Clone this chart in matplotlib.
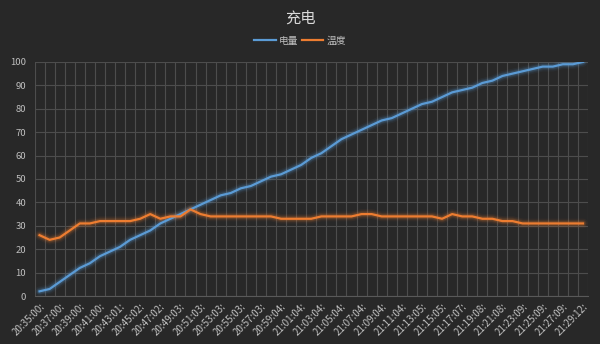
import matplotlib
matplotlib.use('Agg')
import matplotlib.pyplot as plt
import numpy as np

plt.rcParams['font.family'] = ['Noto Sans CJK SC', 'DejaVu Sans']

# 电量 (battery %) and 温度 (temperature) sampled about once a minute
battery = [2, 3, 6, 9, 12, 14, 17, 19, 21, 24, 26, 28, 31, 33, 35, 37, 39,
           41, 43, 44, 46, 47, 49, 51, 52, 54, 56, 59, 61,
           64, 67, 69, 71, 73, 75, 76, 78, 80, 82, 83, 85, 87, 88, 89, 91,
           92, 94, 95, 96, 97, 98, 98, 99, 99, 100]
temp = [26, 24, 25, 28, 31, 31, 32, 32, 32, 32,
        33, 35, 33, 34, 34, 37, 35, 34, 34, 34,
        34, 34, 34, 34, 33, 33, 33, 33, 34, 34,
        34, 34, 35, 35, 34, 34, 34, 34, 34, 34,
        33, 35, 34, 34, 33, 33, 32, 32, 31, 31,
        31, 31, 31, 31, 31]
# every second sample gets a label
tick_labels = ['20:35:00:', '20:37:00:', '20:39:00:', '20:41:00:', '20:43:01:',
               '20:45:02:', '20:47:02:', '20:49:03:', '20:51:03:', '20:53:03:',
               '20:55:03:', '20:57:03:', '20:59:04:', '21:01:04:', '21:03:04:',
               '21:05:04:', '21:07:04:', '21:09:04:', '21:11:04:', '21:13:05:',
               '21:15:05:', '21:17:07:', '21:19:08:', '21:21:08:', '21:23:09:',
               '21:25:09:', '21:27:09:', '21:29:12:']

bg = '#282828'
blue = '#5b9bd5'
orange = '#ed7d31'
txt = '#bfbfbf'

fig = plt.figure(figsize=(6, 3.44), dpi=100, facecolor=bg)
ax = fig.add_axes([0.0575, 0.1395, 0.9225, 0.6805], facecolor=bg)

x = np.arange(len(battery))

# soft glow under each line
for series, c in [(battery, blue), (temp, orange)]:
    for lw, a in [(7, 0.06), (5, 0.10), (3.5, 0.18)]:
        ax.plot(x, series, color=c, lw=lw, alpha=a, solid_capstyle='round')
l1, = ax.plot(x, battery, color=blue, lw=1.6, label='电量')
l2, = ax.plot(x, temp, color=orange, lw=1.6, label='温度')

ax.set_xlim(-0.5, len(x) - 0.5)
ax.set_ylim(0, 100)
ax.set_yticks(np.arange(0, 101, 10))
ax.set_xticks(x[::2])
ax.set_xticklabels(tick_labels, rotation=45, ha='right', rotation_mode='anchor',
                   fontsize=7, color=txt)
ax.set_xticks(np.arange(-0.5, len(x), 1), minor=True)
ax.tick_params(axis='y', labelsize=6.8, colors=txt, length=0, pad=6)
ax.tick_params(axis='x', which='both', length=0, pad=4)

ax.grid(axis='y', color='#4d4d4d', lw=0.8)
ax.grid(axis='x', which='minor', color='#4d4d4d', lw=0.8)
ax.grid(axis='x', which='major', visible=False)
ax.set_axisbelow(True)
for s in ['top', 'right', 'left']:
    ax.spines[s].set_visible(False)
ax.spines['bottom'].set_color('#595959')

fig.text(0.5, 0.948, '充电', ha='center', va='center', fontsize=11, color='#d9d9d9')
fig.legend(handles=[l1, l2], loc='center', bbox_to_anchor=(0.5, 0.882), ncol=2,
           frameon=False, fontsize=7, labelcolor=txt, handlelength=2.2,
           handletextpad=0.3, columnspacing=0.4)

fig.savefig('out.png', dpi=100, facecolor=bg)
